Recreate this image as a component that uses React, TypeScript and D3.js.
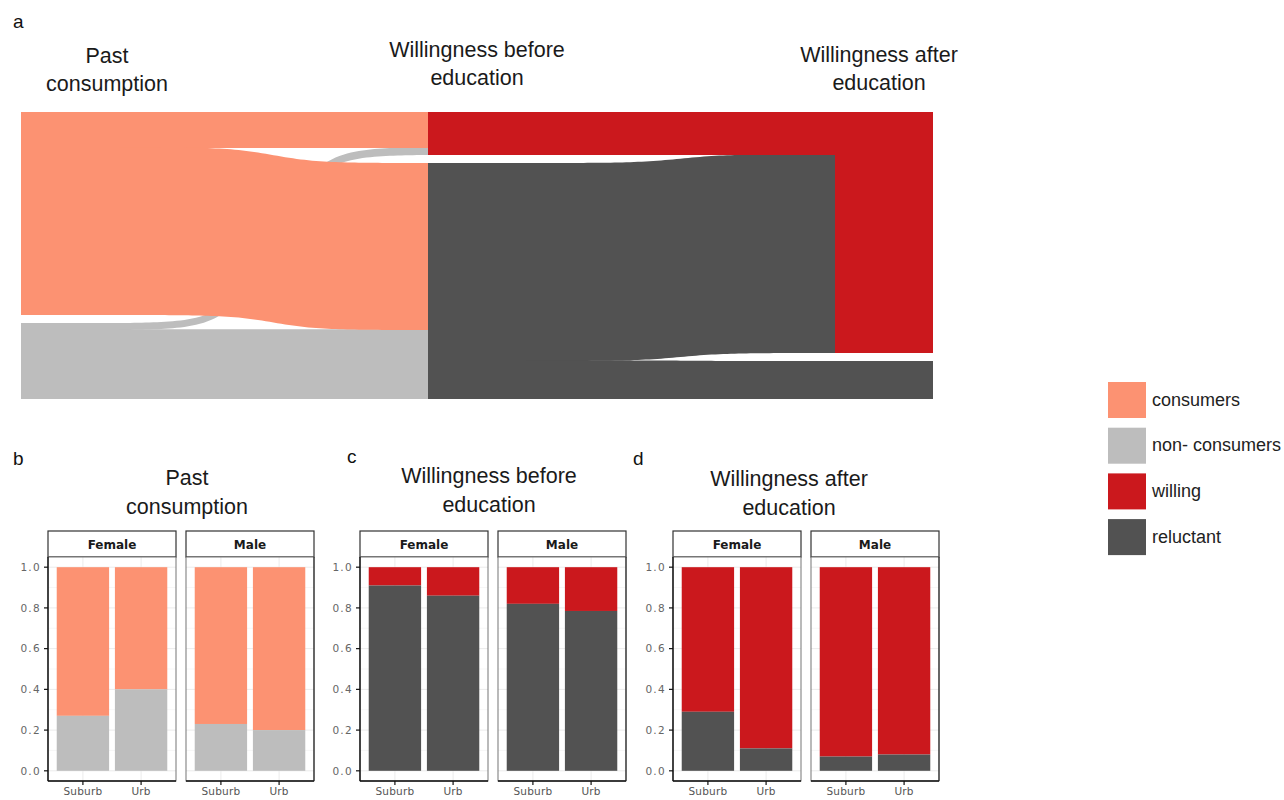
import React from "react";
import * as d3 from "d3";

// ---------- data ----------
const pastCategories = ["consumers", "non-consumers"];
const willCategories = ["willing", "reluctant"];
const legendLabels = ["consumers", "non- consumers", "willing", "reluctant"];

// flows: past consumption -> willingness before education
const flowsPastBefore = [
  { from: "consumers", to: "willing", n: 36 },
  { from: "consumers", to: "reluctant", n: 167 },
  { from: "non-consumers", to: "willing", n: 7 },
  { from: "non-consumers", to: "reluctant", n: 69 },
];
// flows: willingness before -> willingness after education
const flowsBeforeAfter = [
  { from: "willing", to: "willing", n: 43 },
  { from: "reluctant", to: "willing", n: 198 },
  { from: "reluctant", to: "reluctant", n: 38 },
];

const sankeyTitles = [
  ["Past", "consumption"],
  ["Willingness before", "education"],
  ["Willingness after", "education"],
];

const sexes = ["Female", "Male"];
const areas = ["Suburb", "Urb"];
// order: Female-Suburb, Female-Urb, Male-Suburb, Male-Urb
const nonConsumerShare = [0.27, 0.4, 0.23, 0.2];
const reluctantBefore = [0.91, 0.86, 0.82, 0.785];
const reluctantAfter = [0.29, 0.11, 0.07, 0.08];
const yTicks = [0, 0.2, 0.4, 0.6, 0.8, 1.0];

const COLORS: Record<string, string> = {
  consumers: "#FC9272",
  "non-consumers": "#BDBDBD",
  willing: "#CB181D",
  reluctant: "#525252",
};
const legendColors = [COLORS.consumers, COLORS["non-consumers"], COLORS.willing, COLORS.reluctant];

const FONT = "'Liberation Sans', Arial, Helvetica, sans-serif";
const AXFONT = "'DejaVu Sans', 'Liberation Sans', sans-serif";

// ---------- sankey ----------
function Sankey() {
  const top = 112;
  const bottom = 399;
  const gap = 8;
  const strataX = [21, 428, 835];
  const strataW = 98;

  const total = d3.sum(flowsPastBefore, (f) => f.n);
  const k = (bottom - top - gap) / total;

  type Node = { y0: number; y1: number; outOff: number; inOff: number };
  const layoutAxis = (cats: string[], sizes: Map<string, number>) => {
    const m = new Map<string, Node>();
    let cur = top;
    cats.forEach((c) => {
      const h = (sizes.get(c) || 0) * k;
      m.set(c, { y0: cur, y1: cur + h, outOff: 0, inOff: 0 });
      cur += h + gap;
    });
    return m;
  };
  const axis1 = layoutAxis(pastCategories, d3.rollup(flowsPastBefore, (v) => d3.sum(v, (d) => d.n), (d) => d.from));
  const axis2 = layoutAxis(willCategories, d3.rollup(flowsPastBefore, (v) => d3.sum(v, (d) => d.n), (d) => d.to));
  const axis3 = layoutAxis(willCategories, d3.rollup(flowsBeforeAfter, (v) => d3.sum(v, (d) => d.n), (d) => d.to));

  // sigmoid easing for the flow ribbons (flat near the strata, steep in the middle)
  const steep = 13.8;
  const sig = (u: number) => 1 / (1 + Math.exp(-steep * (u - 0.5)));
  const s0 = sig(0);
  const s1 = sig(1);
  const ease = (u: number) => (sig(u) - s0) / (s1 - s0);
  const samples = d3.range(0, 81).map((i) => i / 80);

  const ribbonArea = d3
    .area<{ x: number; t: number; b: number }>()
    .x((d) => d.x)
    .y0((d) => d.t)
    .y1((d) => d.b);

  const ribbon = (x0: number, x1: number, t0: number, b0: number, t1: number, b1: number) => {
    const pts = samples.map((u) => {
      const e = ease(u);
      return { x: x0 + (x1 - x0) * u, t: t0 + (t1 - t0) * e, b: b0 + (b1 - b0) * e };
    });
    return ribbonArea(pts) || "";
  };

  const buildFlows = (
    flows: { from: string; to: string; n: number }[],
    src: Map<string, Node>,
    dst: Map<string, Node>,
    srcCats: string[],
    dstCats: string[],
    x0: number,
    x1: number
  ) => {
    src.forEach((n) => (n.outOff = n.y0));
    dst.forEach((n) => (n.inOff = n.y0));
    const byOut = [...flows].sort(
      (a, b) => srcCats.indexOf(a.from) - srcCats.indexOf(b.from) || dstCats.indexOf(a.to) - dstCats.indexOf(b.to)
    );
    const pos = new Map<any, { t0: number; b0: number; t1: number; b1: number; f0: boolean; f1: boolean }>();
    byOut.forEach((f) => {
      const s = src.get(f.from)!;
      const h = f.n * k;
      pos.set(f, { t0: s.outOff, b0: s.outOff + h, t1: 0, b1: 0, f0: s.outOff === s.y0, f1: false });
      s.outOff += h;
    });
    const byIn = [...flows].sort(
      (a, b) => dstCats.indexOf(a.to) - dstCats.indexOf(b.to) || srcCats.indexOf(a.from) - srcCats.indexOf(b.from)
    );
    byIn.forEach((f) => {
      const d = dst.get(f.to)!;
      const h = f.n * k;
      const p = pos.get(f)!;
      p.t1 = d.inOff;
      p.b1 = d.inOff + h;
      p.f1 = d.inOff === d.y0;
      d.inOff += h;
    });
    // draw later source categories first so earlier ones lie on top
    const drawOrder = [...flows].sort((a, b) => srcCats.indexOf(b.from) - srcCats.indexOf(a.from));
    const ov = 0.7; // small overlap to hide anti-aliasing seams between touching ribbons
    return drawOrder.map((f, i) => {
      const p = pos.get(f)!;
      return (
        <path
          key={i}
          d={ribbon(x0 - 0.5, x1 + 0.5, p.t0 - (p.f0 ? 0 : ov), p.b0, p.t1 - (p.f1 ? 0 : ov), p.b1)}
          fill={COLORS[f.from]}
        />
      );
    });
  };

  const seg1 = buildFlows(flowsPastBefore, axis1, axis2, pastCategories, willCategories, strataX[0] + strataW, strataX[1]);
  const seg2 = buildFlows(flowsBeforeAfter, axis2, axis3, willCategories, willCategories, strataX[1] + strataW, strataX[2]);

  const strata = [axis1, axis2, axis3].flatMap((ax, i) =>
    [...ax.entries()].map(([c, n]) => (
      <rect key={`s${i}${c}`} x={strataX[i]} y={n.y0} width={strataW} height={n.y1 - n.y0} fill={COLORS[c]} />
    ))
  );

  const titleCx = [107, 477, 879];
  const titleY = [[63, 91], [57, 85], [62, 90]];

  return (
    <g>
      {seg1}
      {seg2}
      {strata}
      {sankeyTitles.map((lines, i) =>
        lines.map((l, j) => (
          <text key={`t${i}${j}`} x={titleCx[i]} y={titleY[i][j]} textAnchor="middle" fontFamily={FONT} fontSize={21.5} fill="#1a1a1a">
            {l}
          </text>
        ))
      )}
    </g>
  );
}

// ---------- facet bar panels ----------
function FacetPanel({
  left,
  title,
  titleCx,
  titleBase,
  letter,
  letterX,
  letterY,
  lower,
  lowerColor,
  upperColor,
}: {
  left: number;
  title: string[];
  titleCx: number;
  titleBase: number;
  letter: string;
  letterX: number;
  letterY: number;
  lower: number[];
  lowerColor: string;
  upperColor: string;
}) {
  const panelW = 128;
  const panelGap = 10;
  const stripTop = 531;
  const panelTop = 557;
  const panelBottom = 781;
  const y = d3.scaleLinear().domain([-0.05, 1.05]).range([panelBottom, panelTop]);
  const minorTicks = [0.1, 0.3, 0.5, 0.7, 0.9];

  return (
    <g>
      <text x={letterX} y={letterY} fontFamily={FONT} fontSize={19} fill="#111">
        {letter}
      </text>
      {title.map((l, j) => (
        <text key={j} x={titleCx} y={titleBase + j * 28.5} textAnchor="middle" fontFamily={FONT} fontSize={21.5} fill="#1a1a1a">
          {l}
        </text>
      ))}
      {sexes.map((sex, si) => {
        const px = left + si * (panelW + panelGap);
        const x = d3.scalePoint<string>().domain(areas).range([px, px + panelW]).padding(0.6);
        const bw = x.step() * 0.9;
        return (
          <g key={sex}>
            {/* strip */}
            <rect x={px} y={stripTop} width={panelW} height={panelTop - stripTop} fill="#fff" stroke="#333" strokeWidth={1.2} />
            <text
              x={px + panelW / 2}
              y={(stripTop + panelTop) / 2 + 4.5}
              textAnchor="middle"
              fontFamily={AXFONT}
              fontWeight="bold"
              fontSize={12}
              fill="#1a1a1a"
            >
              {sex}
            </text>
            {/* panel background + grid */}
            <rect x={px} y={panelTop} width={panelW} height={panelBottom - panelTop} fill="#fff" />
            {minorTicks.map((t) => (
              <line key={`mi${t}`} x1={px} x2={px + panelW} y1={y(t)} y2={y(t)} stroke="#F2F2F2" strokeWidth={0.6} />
            ))}
            {yTicks.map((t) => (
              <line key={`ma${t}`} x1={px} x2={px + panelW} y1={y(t)} y2={y(t)} stroke="#EBEBEB" strokeWidth={1} />
            ))}
            {areas.map((a) => (
              <line key={`v${a}`} x1={x(a)} x2={x(a)} y1={panelTop} y2={panelBottom} stroke="#EBEBEB" strokeWidth={1} />
            ))}
            {/* bars */}
            {areas.map((a, ai) => {
              const v = lower[si * 2 + ai];
              const cx = x(a)!;
              return (
                <g key={`b${a}`}>
                  <rect x={cx - bw / 2} y={y(1)} width={bw} height={y(v) - y(1)} fill={upperColor} />
                  <rect x={cx - bw / 2} y={y(v)} width={bw} height={y(0) - y(v)} fill={lowerColor} />
                </g>
              );
            })}
            {/* border */}
            <rect x={px} y={panelTop} width={panelW} height={panelBottom - panelTop} fill="none" stroke="#666" strokeWidth={0.9} />
            {/* bottom axis */}
            <line x1={px} x2={px + panelW} y1={panelBottom} y2={panelBottom} stroke="#111" strokeWidth={1.4} />
            {si === 1 && <line x1={px + panelW} x2={px + panelW} y1={panelTop} y2={panelBottom} stroke="#222" strokeWidth={1.1} />}
            {areas.map((a) => (
              <g key={`xt${a}`}>
                <line x1={x(a)} x2={x(a)} y1={panelBottom} y2={panelBottom + 4} stroke="#111" strokeWidth={1.2} />
                <text x={x(a)} y={795} textAnchor="middle" fontFamily={AXFONT} fontSize={10.5} letterSpacing={0.2} fill="#555">
                  {a}
                </text>
              </g>
            ))}
            {si === 0 && (
              <g>
                <line x1={px} x2={px} y1={panelTop} y2={panelBottom} stroke="#111" strokeWidth={1.4} />
                {yTicks.map((t) => (
                  <g key={`yt${t}`}>
                    <line x1={px - 4} x2={px} y1={y(t)} y2={y(t)} stroke="#111" strokeWidth={1.2} />
                    <text
                      x={px - 7}
                      y={y(t) + 3.8}
                      textAnchor="end"
                      fontFamily={AXFONT}
                      fontSize={10.5}
                      letterSpacing={1.3}
                      fill="#666"
                    >
                      {d3.format(".1f")(t)}
                    </text>
                  </g>
                ))}
              </g>
            )}
          </g>
        );
      })}
    </g>
  );
}

function Legend() {
  const x0 = 1108;
  const y0 = 382;
  const step = 45.7;
  return (
    <g>
      {legendLabels.map((l, i) => (
        <g key={l}>
          <rect x={x0} y={y0 + i * step} width={38} height={36} fill={legendColors[i]} />
          <text x={1152} y={y0 + i * step + 23.5} fontFamily={FONT} fontSize={18} fill="#222">
            {l}
          </text>
        </g>
      ))}
    </g>
  );
}

export default function App() {
  return (
    <svg width={1284} height={800} style={{ position: "absolute", left: 0, top: 0, background: "#fff" }}>
      <rect x={0} y={0} width={1284} height={800} fill="#fff" />
      <text x={13} y={28} fontFamily={FONT} fontSize={19} fill="#111">
        a
      </text>
      <Sankey />
      <FacetPanel
        left={48}
        title={["Past", "consumption"]}
        titleCx={187}
        titleBase={485}
        letter="b"
        letterX={13}
        letterY={465}
        lower={nonConsumerShare}
        lowerColor={COLORS["non-consumers"]}
        upperColor={COLORS.consumers}
      />
      <FacetPanel
        left={360}
        title={["Willingness before", "education"]}
        titleCx={489}
        titleBase={483}
        letter="c"
        letterX={347}
        letterY={463}
        lower={reluctantBefore}
        lowerColor={COLORS.reluctant}
        upperColor={COLORS.willing}
      />
      <FacetPanel
        left={673}
        title={["Willingness after", "education"]}
        titleCx={789}
        titleBase={486}
        letter="d"
        letterX={633}
        letterY={465}
        lower={reluctantAfter}
        lowerColor={COLORS.reluctant}
        upperColor={COLORS.willing}
      />
      <Legend />
    </svg>
  );
}
